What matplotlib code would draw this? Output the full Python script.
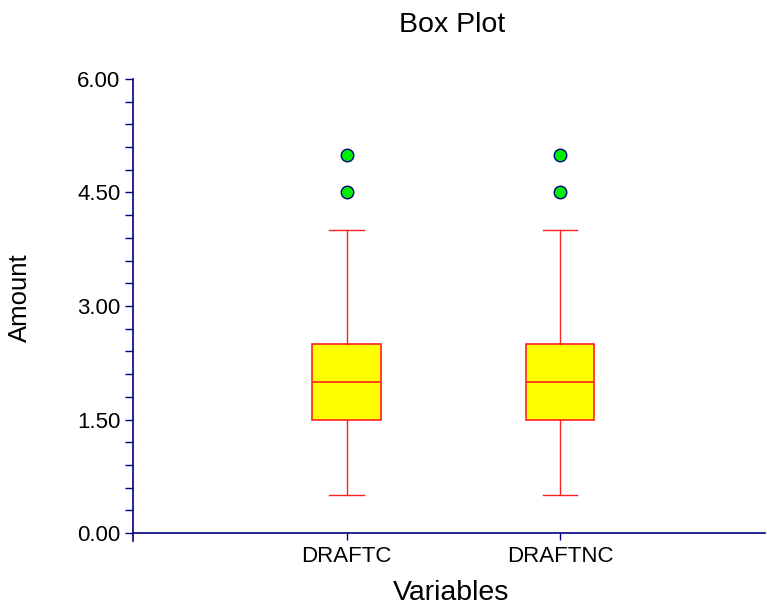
import matplotlib
matplotlib.use("Agg")
import matplotlib.pyplot as plt
from matplotlib.ticker import MultipleLocator, FormatStrFormatter

plt.rcParams['font.family'] = ['Liberation Sans', 'DejaVu Sans']

categories = ["DRAFTC", "DRAFTNC"]
q1 = [1.5, 1.5]
median = [2.0, 2.0]
q3 = [2.5, 2.5]
whisker_low = [0.5, 0.5]
whisker_high = [4.0, 4.0]
outliers = [[4.5, 5.0], [4.5, 5.0]]
y_ticks = [0.0, 1.5, 3.0, 4.5, 6.0]

W, H = 767, 605
fig = plt.figure(figsize=(W/100, H/100), dpi=100)
ymin = -0.1
px_per_unit = (533 - 79) / 6.0
bottom_px = 533 + (-ymin) * px_per_unit
ax = fig.add_axes([133/W, 1-bottom_px/H, (765-133)/W, (bottom_px-79)/H])

stats = []
for i, c in enumerate(categories):
    stats.append(dict(label=c, q1=q1[i], med=median[i], q3=q3[i],
                      whislo=whisker_low[i], whishi=whisker_high[i],
                      fliers=outliers[i]))

ax.bxp(stats, positions=[1, 2], widths=0.32, patch_artist=True,
       showfliers=True,
       boxprops=dict(facecolor='#ffff00', edgecolor='#ff2020', linewidth=1.2),
       medianprops=dict(color='#ff2020', linewidth=1.2),
       whiskerprops=dict(color='#ff2020', linewidth=1.0),
       capprops=dict(color='#ff2020', linewidth=1.0),
       capwidths=0.16,
       flierprops=dict(marker='o', markerfacecolor='#00ee00', markeredgecolor='#000080',
                       markersize=9, markeredgewidth=1.0, linestyle='none'))

ax.set_xlim(0, 2.96)
ax.set_ylim(ymin, 6.0)
ax.spines['top'].set_visible(False)
ax.spines['right'].set_visible(False)
ax.spines['bottom'].set_position(('data', 0))
ax.spines['left'].set_color('#000080')
ax.spines['bottom'].set_color('#000080')
ax.spines['left'].set_linewidth(1.2)
ax.spines['bottom'].set_linewidth(1.2)

ax.set_yticks(y_ticks)
ax.yaxis.set_major_formatter(FormatStrFormatter('%.2f'))
ax.yaxis.set_minor_locator(MultipleLocator(0.3))
ax.tick_params(axis='y', which='both', direction='out', length=6, width=1.0,
               color='#000080', labelsize=16, pad=3)
ax.tick_params(axis='x', which='both', direction='out', length=5, width=1.0,
               color='#000080', labelsize=16, pad=4)
ax.set_xticks([1, 2])
ax.set_xticklabels(categories)

fig.text(452.5/W, 1-32/H, "Box Plot", fontsize=20.5, ha='center', va='baseline')
fig.text(451/W, 1-600/H, "Variables", fontsize=20.5, ha='center', va='baseline')
fig.text(20/W, 1-298/H, "Amount", fontsize=18.5, ha='center', va='center', rotation=90)

fig.savefig("out.png", dpi=100)
